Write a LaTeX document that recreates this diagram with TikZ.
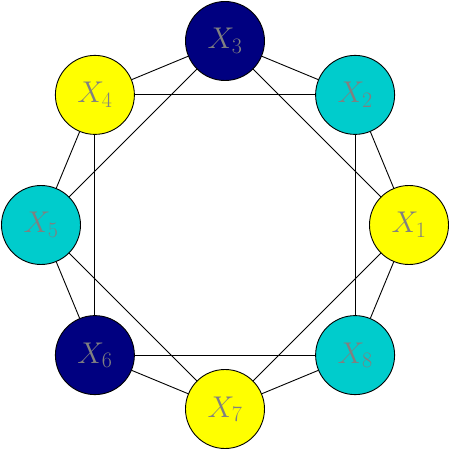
\RequirePackage{fix-cm}
\documentclass[tikz,border=0pt]{standalone}
\usepackage{tikz}
\DeclareMathSizes{30}{30}{22}{16}
\definecolor{cyanc}{RGB}{0,204,204}
\definecolor{navyc}{RGB}{0,0,128}
\definecolor{yel}{RGB}{255,255,0}
\tikzset{
  vert/.style={circle, draw=black, line width=0.9pt, minimum size=79pt, inner sep=0pt,
    text=gray, font=\fontsize{30}{33}\selectfont},
  edge/.style={draw=black, line width=0.9pt}
}
\begin{document}
\begin{tikzpicture}[x=1pt,y=1pt]
\useasboundingbox (-225,-225) rectangle (225,225);
\node[vert, fill=yel]   (x1) at (0:184)   {$X_1$};
\node[vert, fill=cyanc] (x2) at (45:184)  {$X_2$};
\node[vert, fill=navyc] (x3) at (90:184)  {$X_3$};
\node[vert, fill=yel]   (x4) at (135:184) {$X_4$};
\node[vert, fill=cyanc] (x5) at (180:184) {$X_5$};
\node[vert, fill=navyc] (x6) at (225:184) {$X_6$};
\node[vert, fill=yel]   (x7) at (270:184) {$X_7$};
\node[vert, fill=cyanc] (x8) at (315:184) {$X_8$};
\foreach \a/\b in {x1/x2,x2/x3,x3/x4,x4/x5,x5/x6,x6/x7,x7/x8,x8/x1,
                   x1/x3,x2/x4,x3/x5,x4/x6,x5/x7,x6/x8,x7/x1,x8/x2}
  \draw[edge] (\a) -- (\b);
\end{tikzpicture}
\end{document}
